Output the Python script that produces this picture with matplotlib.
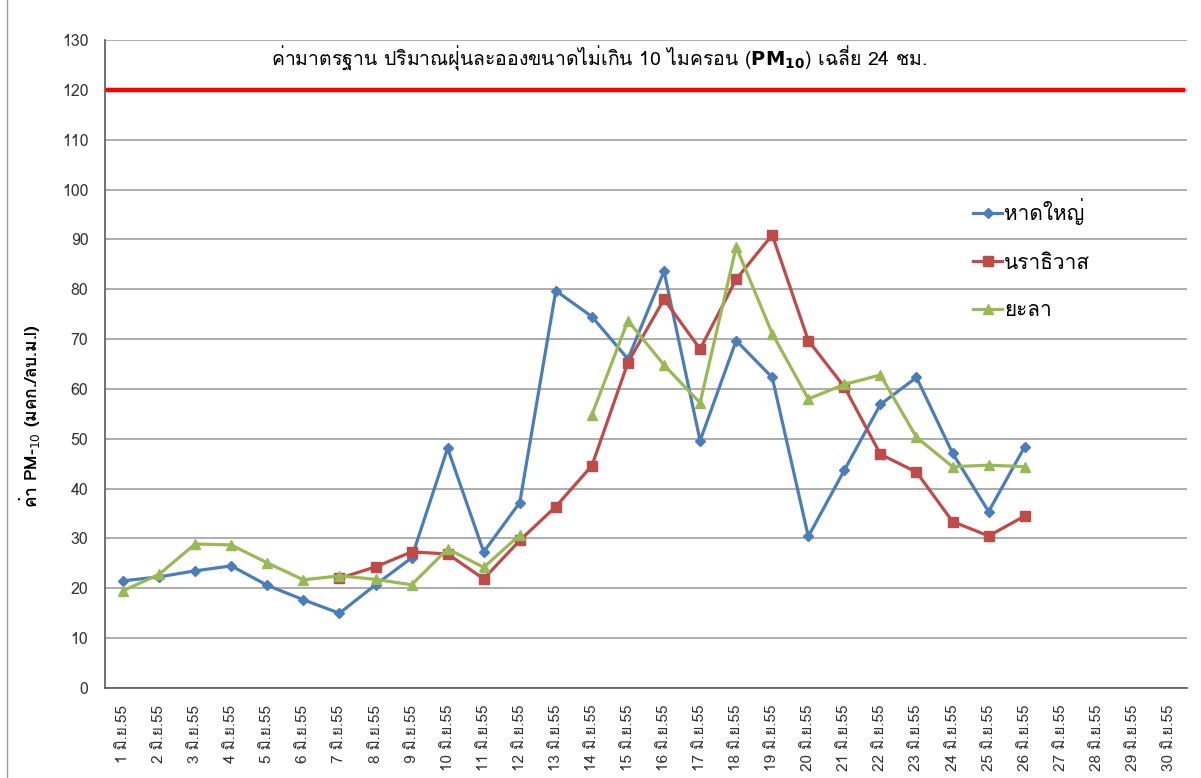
import numpy as np
import matplotlib
matplotlib.use("Agg")
import matplotlib.pyplot as plt
from matplotlib import font_manager
from matplotlib.ft2font import FT2Font
from matplotlib.lines import Line2D

# find an installed font that has Thai glyphs
thai_family = None
for fe in font_manager.fontManager.ttflist:
    try:
        if 0x0E01 in FT2Font(fe.fname).get_charmap():
            thai_family = fe.name
            break
    except Exception:
        pass
families = ([thai_family] if thai_family else []) + ['DejaVu Sans']
plt.rcParams['font.family'] = families

nan = np.nan
days = [f"{d} มิ.ย.55" for d in range(1, 31)]

hatyai = [21.5, 22.3, 23.5, 24.5, 20.6, 17.7, 15.0, 20.7, 26.1, 48.1,
          27.3, 37.2, 79.7, 74.5, 66.0, 83.6, 49.6, 69.7, 62.3, 30.4,
          43.7, 56.9, 62.3, 47.1, 35.4, 48.4, nan, nan, nan, nan]
narathiwat = [nan, nan, nan, nan, nan, nan, 22.0, 24.3, 27.3, 26.9,
              21.9, 29.6, 36.4, 44.6, 65.3, 78.0, 68.0, 82.0, 90.9, 69.7,
              60.4, 46.9, 43.3, 33.4, 30.5, 34.5, nan, nan, nan, nan]
yala = [19.5, 22.8, 28.9, 28.7, 25.1, 21.7, 22.5, 21.8, 20.7, 27.9,
        24.2, 30.7, nan, 54.8, 73.7, 64.8, 57.2, 88.5, 71.1, 58.0,
        60.9, 62.8, 50.3, 44.4, 44.7, 44.4, nan, nan, nan, nan]
standard = 120

names = ['หาดใหญ่', 'นราธิวาส', 'ยะลา']
colors = ['#4A7EBB', '#BE4B48', '#98B954']
markers = ['D', 's', '^']
msizes = [5.5, 7, 7.5]

fig = plt.figure(figsize=(12.01, 7.78), dpi=100)
ax = fig.add_axes([105/1201, 1-688/778, (1187-105)/1201, (688-40)/778])

x = np.arange(len(days))
for ys, nm, c, m, ms in zip([hatyai, narathiwat, yala], names, colors, markers, msizes):
    ax.plot(x, ys, color=c, marker=m, markersize=ms, linewidth=2.3, label=nm, zorder=3)

ax.axhline(standard, color='#FF0000', linewidth=3.2, xmin=0, xmax=(1183-105)/(1187-105), zorder=2)

ax.set_xlim(-0.5, 29.5)
ax.set_ylim(0, 130)
ax.set_yticks(np.arange(0, 131, 10))
ax.set_xticks(x)
ax.set_xticklabels(days, rotation=90, fontsize=11)
ax.tick_params(axis='y', labelsize=11.5, length=0, pad=12, colors='#333333')
ax.tick_params(axis='x', length=0, pad=12, colors='#333333')
ax.yaxis.grid(True, color='#A0A0A0', linewidth=1.2)
ax.set_axisbelow(True)
for s in ['top', 'right']:
    ax.spines[s].set_visible(False)
for s in ['left', 'bottom']:
    ax.spines[s].set_color('#595959')
    ax.spines[s].set_linewidth(1.2)

ax.text(0.457, 0.995, 'ค่ามาตรฐาน ปริมาณฝุ่นละอองขนาดไม่เกิน 10 ไมครอน ($\\mathbf{PM}_{\\mathbf{10}}$) เฉลี่ย 24 ชม.',
        transform=ax.transAxes, ha='center', va='top', fontsize=14)

ax.set_ylabel('ค่า PM-$_{10}$ (มคก./ลบ.ม.l)', fontsize=12.5, fontweight='bold')
ax.yaxis.set_label_coords(-0.058, 0.42)

ax.legend(loc='upper left', bbox_to_anchor=(0.785, 0.785), frameon=False, fontsize=15,
          handlelength=1.4, handletextpad=0.1, labelspacing=1.38)

fig.add_artist(Line2D([7/1201, 7/1201], [0, 1], transform=fig.transFigure, color='#9A9A9A', linewidth=1))

fig.savefig('out.png', dpi=100)
